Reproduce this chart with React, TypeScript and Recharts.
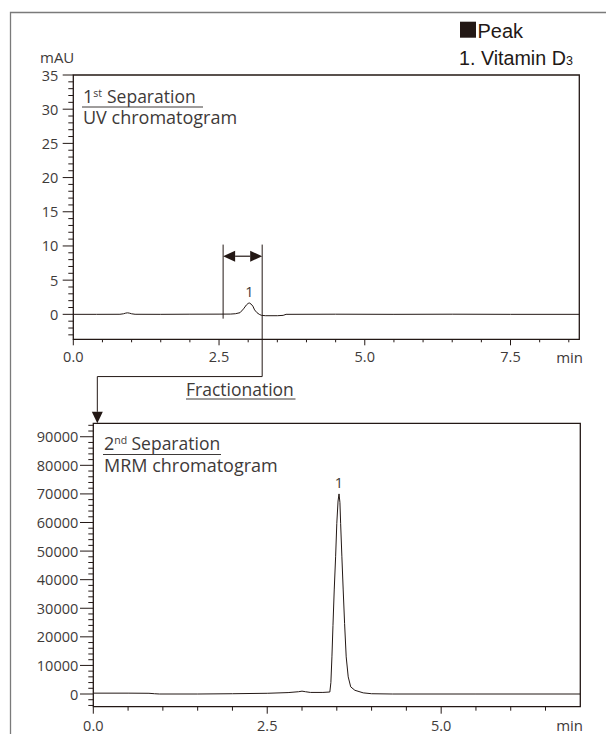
import { LineChart, Line, XAxis, YAxis, ReferenceArea, ReferenceLine, ReferenceDot } from 'recharts';

const W = 606;
const H = 734;
const INK = '#231815';
const TXT = '#3e3a39';
const SANS = '"Open Sans", sans-serif';

// 1st separation – UV chromatogram (mAU vs min)
const uvTime = [0, 0.4, 0.8, 0.86, 0.9, 0.93, 0.96, 1.0, 1.06, 1.5, 2.0, 2.5, 2.7, 2.78, 2.86, 2.92, 2.97, 3.0, 3.02, 3.05, 3.08, 3.11, 3.15, 3.19, 3.23, 3.3, 3.5, 3.6, 3.65, 4.5, 5.5, 6.5, 7.5, 8.68];
const uvAbs = [0, 0, 0.01, 0.08, 0.18, 0.22, 0.18, 0.08, 0.01, 0, 0.02, 0.03, 0.04, 0.09, 0.24, 0.8, 1.38, 1.6, 1.66, 1.5, 1.2, 0.65, 0.25, 0.0, -0.15, -0.2, -0.2, -0.15, 0, 0.02, 0, 0.02, 0, 0];

// 2nd separation – MRM chromatogram (counts vs min)
const mrmTime = [0, 0.5, 0.8, 0.88, 0.95, 1.5, 2.0, 2.5, 2.8, 2.95, 3.0, 3.05, 3.12, 3.3, 3.4, 3.415, 3.43, 3.445, 3.463, 3.483, 3.5, 3.518, 3.532, 3.545, 3.555, 3.573, 3.592, 3.612, 3.635, 3.664, 3.7, 3.76, 3.88, 4.0, 4.3, 5.5, 7.0];
const mrmCounts = [300, 300, 250, 100, 0, 0, 100, 250, 500, 800, 1000, 800, 550, 550, 700, 4000, 13000, 24000, 36400, 48000, 59700, 67500, 70000, 67000, 59700, 48000, 36400, 24700, 13000, 6000, 2500, 1300, 400, 100, 0, 0, 0];

const uvYLabels = [0, 5, 10, 15, 20, 25, 30, 35];
const uvXLabels = [0, 2.5, 5, 7.5];
const mrmYLabels = [0, 10000, 20000, 30000, 40000, 50000, 60000, 70000, 80000, 90000];
const mrmXLabels = [0, 2.5, 5];

const uvDomainX = [0, 8.68];
const uvDomainY = [-3.65, 35];
const mrmDomainX = [0, 7];
const mrmDomainY = [-4440, 94700];

// fraction window cut from the 1st separation
const fracStart = 2.57;
const fracEnd = 3.24;

const uvData = uvTime.map((t, i) => ({ t, v: uvAbs[i] }));
const mrmData = mrmTime.map((t, i) => ({ t, v: mrmCounts[i] }));

function steps(from: number, to: number, step: number) {
  const out: number[] = [];
  for (let i = 0; from + i * step <= to + 1e-9; i++) out.push(+(from + i * step).toFixed(4));
  return out;
}

const YTick = (p: any) => {
  const { x, y, payload, labels, major, minor, gap } = p;
  const isMajor = labels.includes(payload.value);
  const len = isMajor ? major : minor;
  return (
    <g>
      <line x1={x} x2={x - len} y1={y} y2={y} stroke={INK} strokeWidth={1} />
      {isMajor && (
        <text x={x - len - gap} y={y} textAnchor="end" dominantBaseline="central" fontFamily={SANS} fontSize={14.5} fill={TXT}>
          {payload.value}
        </text>
      )}
    </g>
  );
};

const XTick = (p: any) => {
  const { x, y, payload, labels, major, minor, dy } = p;
  const isMajor = labels.includes(payload.value);
  const len = isMajor ? major : minor;
  return (
    <g>
      <line x1={x} x2={x} y1={y} y2={y + len} stroke={INK} strokeWidth={1} />
      {isMajor && (
        <text x={x} y={y + dy} textAnchor="middle" dominantBaseline="central" fontFamily={SANS} fontSize={14.5} fill={TXT}>
          {payload.value.toFixed(1)}
        </text>
      )}
    </g>
  );
};

const DoubleArrow = (p: any) => {
  const { x1, y1, x2 } = p;
  const l = 12;
  const h = 5.5;
  return (
    <g>
      <line x1={x1 + l} x2={x2 - l} y1={y1} y2={y1} stroke={INK} strokeWidth={1.2} />
      <polygon points={`${x1},${y1} ${x1 + l},${y1 - h} ${x1 + l},${y1 + h}`} fill={INK} />
      <polygon points={`${x2},${y1} ${x2 - l},${y1 - h} ${x2 - l},${y1 + h}`} fill={INK} />
    </g>
  );
};

const DownArrow = (p: any) => {
  const { x1, y1, y2 } = p;
  const l = 11.5;
  const h = 5.5;
  return (
    <g>
      <line x1={x1} x2={x1} y1={y1} y2={y2 - l} stroke={INK} strokeWidth={1} />
      <polygon points={`${x1},${y2} ${x1 - h},${y2 - l} ${x1 + h},${y2 - l}`} fill={INK} />
    </g>
  );
};

const PeakNo = (p: any) => (
  <text x={p.cx} y={p.cy} textAnchor="middle" dominantBaseline="central" fontFamily={SANS} fontSize={14.5} fill={TXT}>
    1
  </text>
);

// two-line panel caption with an underlined first line
const Caption = ({ x, y, num, sup, second, lineEnd }: any) => (
  <g fontFamily={SANS} fill={TXT}>
    <text x={x} y={y} fontSize={18}>{num}</text>
    <text x={x + 10.3} y={y - 6} fontSize={10.5}>{sup}</text>
    <text x={x + (sup === 'st' ? 24 : 27.5)} y={y} fontSize={17.5}>Separation</text>
    <line x1={x - 1} x2={lineEnd} y1={y + 4.5} y2={y + 4.5} stroke={TXT} strokeWidth={1} />
    <text x={x} y={y + 21.5} fontSize={18}>{second}</text>
  </g>
);

export default function App() {
  return (
    <div style={{ position: 'absolute', left: 0, top: 0, width: W, height: H, background: '#fff' }}>
      <div style={{ position: 'absolute', left: 0, top: 0 }}>
        <LineChart width={W} height={H} data={uvData} margin={{ top: 75, right: 26.7, bottom: 364.7, left: 0 }}>
          <XAxis
            type="number"
            dataKey="t"
            domain={uvDomainX}
            allowDataOverflow
            ticks={steps(0, 8.5, 0.5)}
            interval={0}
            height={30}
            axisLine={false}
            tickLine={false}
            tickSize={0}
            tickMargin={0}
            tick={(p: any) => <XTick {...p} labels={uvXLabels} major={6} minor={3} dy={17.4} />}
          />
          <YAxis
            type="number"
            domain={uvDomainY}
            allowDataOverflow
            ticks={steps(-3, 35, 1)}
            interval={0}
            width={73.3}
            axisLine={false}
            tickLine={false}
            tickSize={0}
            tickMargin={0}
            tick={(p: any) => <YTick {...p} labels={uvYLabels} major={10.6} minor={5} gap={4.4} />}
          />
          <ReferenceArea x1={uvDomainX[0]} x2={uvDomainX[1]} y1={uvDomainY[0]} y2={uvDomainY[1]} fill="none" fillOpacity={0} stroke={INK} strokeWidth={1.3} ifOverflow="visible" />
          <ReferenceLine segment={[{ x: fracStart, y: 10.2 }, { x: fracStart, y: -0.63 }]} stroke={INK} strokeWidth={1} ifOverflow="visible" />
          <ReferenceLine segment={[{ x: fracEnd, y: 10.2 }, { x: fracEnd, y: -9.1 }]} stroke={INK} strokeWidth={1} ifOverflow="visible" />
          <ReferenceLine segment={[{ x: fracEnd, y: -9.1 }, { x: 0.412, y: -9.1 }]} stroke={INK} strokeWidth={1} ifOverflow="visible" />
          <ReferenceLine segment={[{ x: 0.412, y: -9.1 }, { x: 0.412, y: -15.94 }]} ifOverflow="visible" shape={DownArrow} />
          <ReferenceLine segment={[{ x: fracStart, y: 8.5 }, { x: fracEnd, y: 8.5 }]} ifOverflow="visible" shape={DoubleArrow} />
          <ReferenceDot x={3.02} y={3.3} r={0} ifOverflow="visible" shape={PeakNo} />
          <Line type="linear" dataKey="v" stroke={INK} strokeWidth={1} dot={false} activeDot={false} isAnimationActive={false} />
        </LineChart>
      </div>

      <div style={{ position: 'absolute', left: 0, top: 0 }}>
        <LineChart width={W} height={H} data={mrmData} margin={{ top: 423.3, right: 25.7, bottom: 0, left: 0 }}>
          <XAxis
            type="number"
            dataKey="t"
            domain={mrmDomainX}
            allowDataOverflow
            ticks={steps(0, 6.5, 0.5)}
            interval={0}
            height={27.3}
            axisLine={false}
            tickLine={false}
            tickSize={0}
            tickMargin={0}
            tick={(p: any) => <XTick {...p} labels={mrmXLabels} major={7} minor={4} dy={19} />}
          />
          <YAxis
            type="number"
            domain={mrmDomainY}
            allowDataOverflow
            ticks={steps(-4000, 94000, 2000)}
            interval={0}
            width={93.3}
            axisLine={false}
            tickLine={false}
            tickSize={0}
            tickMargin={0}
            tick={(p: any) => <YTick {...p} labels={mrmYLabels} major={13.3} minor={5} gap={1.7} />}
          />
          <ReferenceArea x1={mrmDomainX[0]} x2={mrmDomainX[1]} y1={mrmDomainY[0]} y2={mrmDomainY[1]} fill="none" fillOpacity={0} stroke={INK} strokeWidth={1.3} ifOverflow="visible" />
          <ReferenceDot x={3.53} y={74100} r={0} ifOverflow="visible" shape={PeakNo} />
          <Line type="linear" dataKey="v" stroke={INK} strokeWidth={1} dot={false} activeDot={false} isAnimationActive={false} />
        </LineChart>
      </div>

      <svg width={W} height={H} style={{ position: 'absolute', left: 0, top: 0, pointerEvents: 'none' }}>
        <path d="M10.5 734 V12.5 H606" fill="none" stroke="#7a7a7a" strokeWidth={1.3} />

        <rect x={460} y={21.7} width={16} height={16} fill={INK} />
        <text x={477.5} y={37.7} fontFamily='"Liberation Sans", Arial, sans-serif' fontSize={20} fill={INK}>Peak</text>
        <text x={459} y={65} fontFamily='"Liberation Sans", Arial, sans-serif' fontSize={19.7} fill={INK}>
          1. Vitamin D<tspan fontSize={12.5}>3</tspan>
        </text>

        <text x={40} y={63.3} fontFamily={SANS} fontSize={15} fill={TXT}>mAU</text>
        <text x={583} y={356.5} textAnchor="end" dominantBaseline="central" fontFamily={SANS} fontSize={15} fill={TXT}>min</text>
        <text x={583} y={725} textAnchor="end" dominantBaseline="central" fontFamily={SANS} fontSize={15} fill={TXT}>min</text>

        <Caption x={83} y={102.5} num="1" sup="st" second="UV chromatogram" lineEnd={203} />
        <Caption x={104} y={450} num="2" sup="nd" second="MRM chromatogram" lineEnd={221} />

        <text x={186} y={395.5} fontFamily={SANS} fontSize={17.5} fill={TXT}>Fractionation</text>
        <line x1={186} x2={295.5} y1={399} y2={399} stroke={TXT} strokeWidth={1} />
      </svg>
    </div>
  );
}
